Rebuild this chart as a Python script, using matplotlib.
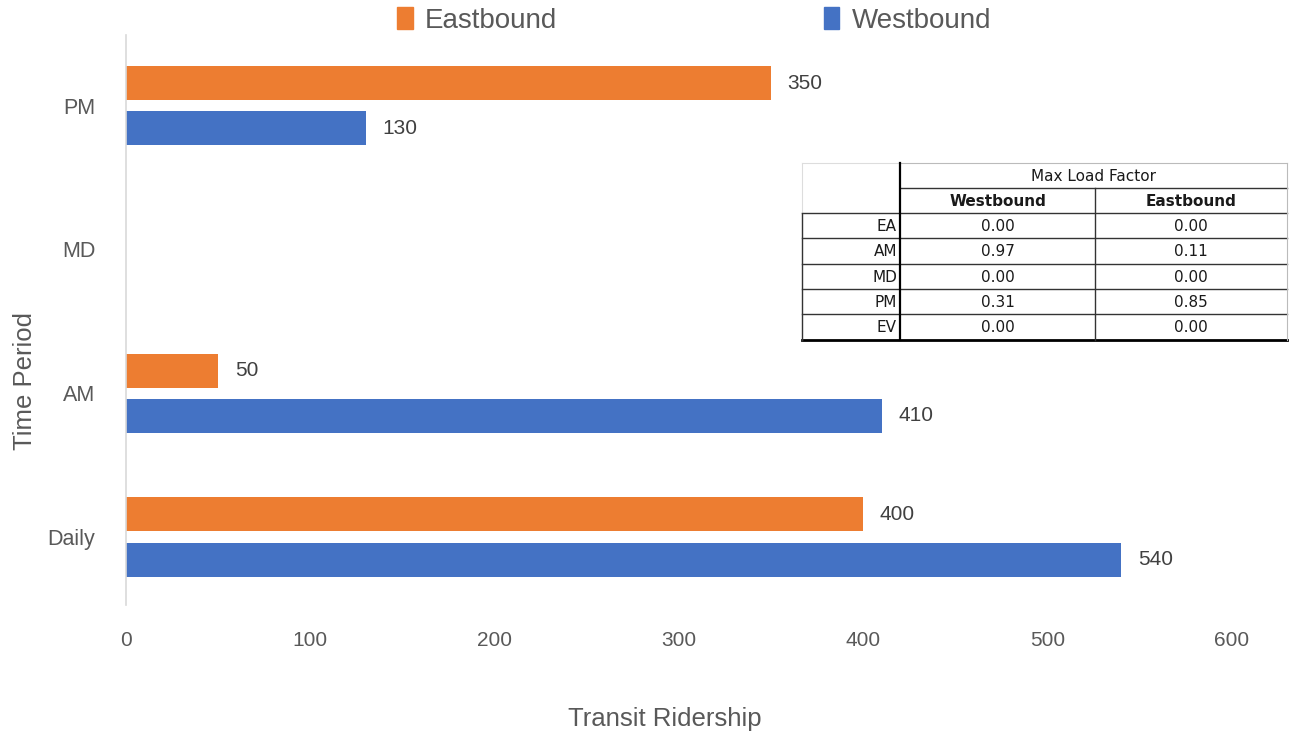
import numpy as np
import matplotlib
matplotlib.use("Agg")
from matplotlib import pyplot as plt

plt.rcParams['font.family'] = ['Liberation Sans Narrow', 'Liberation Sans', 'DejaVu Sans']

# ridership by period
periods = ["Daily", "AM", "MD", "PM"]
eastbound = [400, 50, None, 350]
westbound = [540, 410, None, 130]

# max load factor table
lf_periods = ["EA", "AM", "MD", "PM", "EV"]
lf_west = [0.00, 0.97, 0.00, 0.31, 0.00]
lf_east = [0.00, 0.11, 0.00, 0.85, 0.00]

orange = "#ED7D31"
blue = "#4472C4"
gray_txt = "#595959"
lab_txt = "#404040"

fig = plt.figure(figsize=(12.93, 7.34), dpi=100)
ax = fig.add_axes([0.0974, 0.1757, 0.8554, 0.7766])

y = np.arange(len(periods))
h = 0.236
off = 0.157
for i in range(len(periods)):
    if eastbound[i] is not None:
        ax.barh(y[i] + off, eastbound[i], height=h, color=orange)
        ax.text(eastbound[i] + 9, y[i] + off, str(eastbound[i]), va="center", ha="left",
                fontsize=15, color=lab_txt)
    if westbound[i] is not None:
        ax.barh(y[i] - off, westbound[i], height=h, color=blue)
        ax.text(westbound[i] + 9, y[i] - off, str(westbound[i]), va="center", ha="left",
                fontsize=15, color=lab_txt)

ax.set_xlim(0, 600)
ax.set_ylim(-0.473, 3.491)
ax.set_xticks(np.arange(0, 601, 100))
ax.set_yticks(y)
ax.set_yticklabels(periods)
ax.tick_params(axis="x", length=0, pad=19, labelsize=15, colors=gray_txt)
ax.tick_params(axis="y", length=0, pad=22, labelsize=15.5, colors=gray_txt)
for s in ["top", "right", "bottom"]:
    ax.spines[s].set_visible(False)
ax.spines["left"].set_color("#D9D9D9")
ax.spines["left"].set_linewidth(1.2)

fig.text(0.514, 0.020, "Transit Ridership", ha="center", va="center", fontsize=18.5, color=gray_txt)
fig.text(0.019, 0.481, "Time Period", ha="center", va="center", rotation=90, fontsize=18.5, color=gray_txt)

handles = [plt.Rectangle((0, 0), 1, 1, color=orange), plt.Rectangle((0, 0), 1, 1, color=blue)]
fig.legend(handles, ["Eastbound", "Westbound"], loc="center", bbox_to_anchor=(0.537, 0.972),
           ncol=2, frameon=False, fontsize=20, labelcolor=gray_txt, columnspacing=9.6,
           handlelength=0.55, handleheight=0.8, handletextpad=0.45)

# load factor table drawn in figure pixel coords
W, H = 1293, 734
tx = fig.add_axes([0, 0, 1, 1])
tx.set_xlim(0, W)
tx.set_ylim(H, 0)
tx.axis("off")
tx.patch.set_alpha(0)

cols = [802, 900, 1095, 1287]
top = 163
hdr = [163, 188, 213]
row_h = 25.3
rows = [213 + row_h * k for k in range(len(lf_periods) + 1)]
bottom = rows[-1]
tx.add_patch(plt.Rectangle((cols[0], top), cols[-1] - cols[0], bottom - top, color="white", zorder=0))
lc = "#333333"
tc = "#1a1a1a"
fs = 11
tf = ["DejaVu Sans"]
# grid lines
tx.plot([cols[1], cols[3]], [hdr[0], hdr[0]], color="#BBBBBB", lw=0.8)
tx.plot([cols[0], cols[1]], [hdr[0], hdr[0]], color="#DDDDDD", lw=0.8)
tx.plot([cols[1], cols[3]], [hdr[1], hdr[1]], color=lc, lw=1.0)
for r in rows[:-1]:
    tx.plot([cols[0], cols[3]], [r, r], color=lc, lw=1.0)
tx.plot([cols[0], cols[3]], [bottom, bottom], color="black", lw=2.0)
tx.plot([cols[0], cols[0]], [hdr[0], bottom], color="#DDDDDD", lw=0.8)
tx.plot([cols[0], cols[0]], [rows[0], bottom], color=lc, lw=1.0)
tx.plot([cols[1], cols[1]], [hdr[0], bottom], color="black", lw=1.6)
tx.plot([cols[2], cols[2]], [hdr[1], bottom], color=lc, lw=1.0)
tx.plot([cols[3], cols[3]], [hdr[0], bottom], color="#BBBBBB", lw=0.8)

tx.text((cols[1] + cols[3]) / 2, (hdr[0] + hdr[1]) / 2 + 1, "Max Load Factor", ha="center", va="center",
        fontsize=fs, color=tc, family=tf)
tx.text((cols[1] + cols[2]) / 2, (hdr[1] + hdr[2]) / 2 + 1, "Westbound", ha="center", va="center",
        fontsize=fs, color=tc, weight="bold", family=tf)
tx.text((cols[2] + cols[3]) / 2, (hdr[1] + hdr[2]) / 2 + 1, "Eastbound", ha="center", va="center",
        fontsize=fs, color=tc, weight="bold", family=tf)
for k, p in enumerate(lf_periods):
    yc = (rows[k] + rows[k + 1]) / 2 + 1
    tx.text(cols[1] - 3, yc, p, ha="right", va="center", fontsize=fs, color=tc, family=tf)
    tx.text((cols[1] + cols[2]) / 2, yc, "%.2f" % lf_west[k], ha="center", va="center", fontsize=fs,
            color=tc, family=tf)
    tx.text((cols[2] + cols[3]) / 2, yc, "%.2f" % lf_east[k], ha="center", va="center", fontsize=fs,
            color=tc, family=tf)

fig.savefig("out.png", dpi=100)
